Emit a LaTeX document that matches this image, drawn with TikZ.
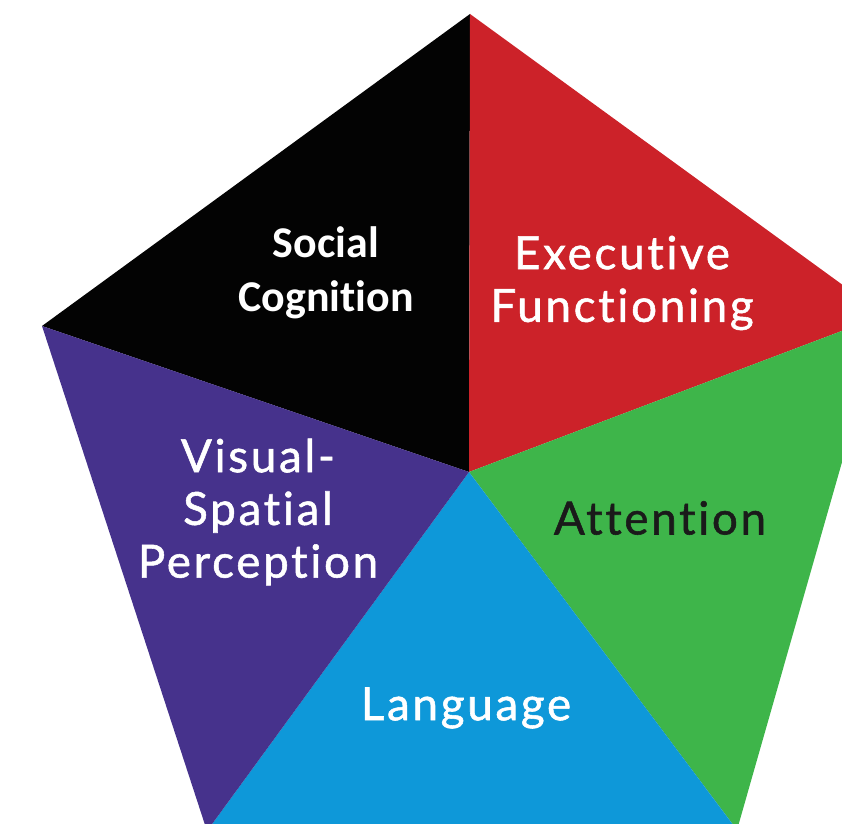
\documentclass[tikz,border=0pt]{standalone}
\usepackage{fontspec}
\setmainfont{Lato}[Ligatures=NoCommon,LetterSpace=6,FakeBold=1.2]
\newfontfamily\calfont{Carlito}[Ligatures=NoCommon]
\usepackage{xcolor}

\definecolor{socialblack}{HTML}{030303}
\definecolor{execred}{HTML}{CC2229}
\definecolor{attgreen}{HTML}{3EB54A}
\definecolor{langblue}{HTML}{0E98D9}
\definecolor{visviolet}{HTML}{46328C}
\definecolor{darktext}{HTML}{1A1A1A}

\begin{document}
\begin{tikzpicture}[x=0.02cm,y=-0.02cm,
	lbl/.style={text=white,align=center,font=\fontsize{26}{30}\selectfont},
	sclbl/.style={text=white,align=center,font=\calfont\bfseries\fontsize{25}{30.6}\selectfont}]
	\useasboundingbox (0,0) rectangle (842,824);
	\clip (0,0) rectangle (842,824);
	%
	\coordinate (c) at (469,472);
	\coordinate (top) at (470,14);
	\coordinate (rt) at (884,315);
	\coordinate (br) at (737,830);
	\coordinate (bl) at (207,831);
	\coordinate (lt) at (42,326);
	%
	\fill[socialblack] (c) -- (lt) -- (top) -- cycle;
	\fill[execred] (c) -- (top) -- (rt) -- cycle;
	\fill[attgreen] (c) -- (rt) -- (br) -- cycle;
	\fill[langblue] (c) -- (br) -- (bl) -- cycle;
	\fill[visviolet] (c) -- (bl) -- (lt) -- cycle;
	%
	\node[sclbl] (social) at (326,273) {Social\\Cognition};
	\node[lbl] (exec) at (622,283) {Executive\\Functioning};
	\node[lbl,text=darktext] (attn) at (660,518) {Attention};
	\node[lbl] (lang) at (466,708) {Language};
	\node[lbl] (visual) at (258,512) {Visual-\\Spatial\\Perception};
\end{tikzpicture}
\end{document}
